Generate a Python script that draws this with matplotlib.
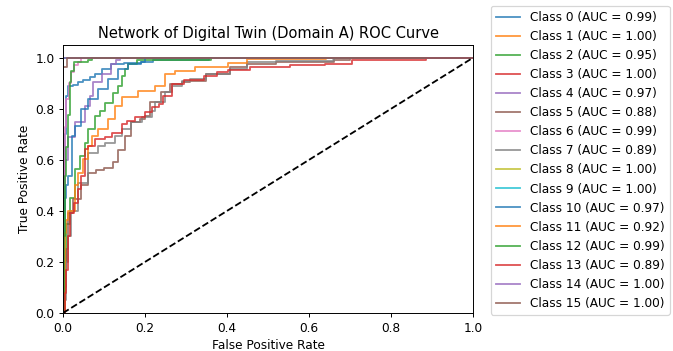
import numpy as np
import matplotlib.pyplot as plt

# ROC points per class
fpr0 = [0, 0, 0.004, 0.008, 0.012, 0.025, 0.037, 0.049, 0.065, 0.077, 0.094, 0.118, 0.15, 0.19, 0.22, 0.35, 0.355, 1]
tpr0 = [0, 0.45, 0.7, 0.85, 0.89, 0.895, 0.904, 0.911, 0.925, 0.937, 0.957, 0.976, 0.98, 0.983, 0.99, 0.99, 1, 1]
fpr1 = [0, 0, 1]
tpr1 = [0, 1, 1]
fpr2 = [0, 0.004, 0.008, 0.016, 0.029, 0.041, 0.053, 0.062, 0.078, 0.09, 0.102, 0.122, 0.135, 0.143, 0.151, 0.159, 0.18, 0.36, 0.362, 1]
tpr2 = [0, 0.2, 0.35, 0.45, 0.563, 0.614, 0.668, 0.72, 0.772, 0.79, 0.823, 0.862, 0.89, 0.93, 0.956, 0.976, 0.99, 0.99, 1, 1]
fpr3 = [0, 0, 1]
tpr3 = [0, 1, 1]
fpr4 = [0, 0, 0.005, 0.013, 0.029, 0.053, 0.065, 0.073, 0.094, 0.118, 0.13, 0.14, 1]
tpr4 = [0, 0.4, 0.6, 0.69, 0.747, 0.812, 0.852, 0.904, 0.937, 0.976, 0.99, 1, 1]
fpr5 = [0, 0.004, 0.008, 0.013, 0.025, 0.045, 0.062, 0.08, 0.10, 0.123, 0.135, 0.151, 0.167, 0.188, 0.2, 0.212,
        0.24, 0.261, 0.29, 0.31, 0.35, 0.407, 0.448, 0.52, 0.66, 0.7, 1]
tpr5 = [0, 0.1, 0.25, 0.39, 0.445, 0.50, 0.55, 0.56, 0.57, 0.59, 0.64, 0.694, 0.747, 0.76, 0.77, 0.826,
        0.864, 0.898, 0.905, 0.91, 0.937, 0.963, 0.976, 0.983, 0.99, 1, 1]
fpr6 = [0, 0, 0.004, 0.008, 0.014, 0.02, 0.028, 0.037, 0.045, 1]
tpr6 = [0, 0.5, 0.73, 0.838, 0.9, 0.944, 0.97, 0.985, 1, 1]
fpr7 = [0, 0.004, 0.008, 0.012, 0.02, 0.037, 0.062, 0.086, 0.102, 0.127, 0.143, 0.167, 0.192, 0.216, 0.224,
        0.249, 0.265, 0.29, 0.31, 0.35, 0.407, 0.448, 0.52, 0.658, 0.66, 1]
tpr7 = [0, 0.05, 0.2, 0.3, 0.4, 0.51, 0.628, 0.654, 0.668, 0.694, 0.72, 0.747, 0.766, 0.792, 0.825,
        0.864, 0.89, 0.91, 0.915, 0.937, 0.957, 0.983, 0.986, 0.99, 1, 1]
fpr8 = [0, 0, 1]
tpr8 = [0, 1, 1]
fpr9 = [0, 0, 1]
tpr9 = [0, 1, 1]
fpr10 = [0, 0, 0.004, 0.008, 0.012, 0.021, 0.029, 0.045, 0.062, 0.086, 0.11, 0.134, 0.159, 0.19, 0.2, 1]
tpr10 = [0, 0.3, 0.45, 0.5, 0.536, 0.694, 0.734, 0.8, 0.84, 0.878, 0.917, 0.955, 0.976, 0.983, 1, 1]
fpr11 = [0, 0.004, 0.008, 0.013, 0.029, 0.037, 0.049, 0.062, 0.07, 0.086, 0.11, 0.127, 0.143, 0.184, 0.224,
         0.249, 0.273, 0.322, 0.403, 0.448, 0.64, 0.642, 1]
tpr11 = [0, 0.314, 0.366, 0.4, 0.5, 0.55, 0.602, 0.654, 0.694, 0.72, 0.76, 0.812, 0.845, 0.87, 0.89,
         0.937, 0.95, 0.963, 0.98, 0.994, 0.994, 1, 1]
fpr12 = [0, 0.002, 0.004, 0.008, 0.012, 0.016, 0.02, 0.028, 0.061, 0.07, 1]
tpr12 = [0, 0.3, 0.538, 0.65, 0.774, 0.904, 0.95, 0.983, 0.99, 1, 1]
fpr13 = [0, 0.004, 0.008, 0.012, 0.016, 0.028, 0.037, 0.045, 0.054, 0.062, 0.078, 0.102, 0.119, 0.143, 0.155,
         0.176, 0.2, 0.216, 0.233, 0.245, 0.265, 0.294, 0.343, 0.375, 0.403, 0.456, 0.553, 0.64, 0.704, 0.785,
         0.883, 0.885, 1]
tpr13 = [0, 0.077, 0.169, 0.3, 0.392, 0.432, 0.484, 0.537, 0.641, 0.654, 0.681, 0.688, 0.707, 0.74, 0.753,
         0.766, 0.786, 0.806, 0.82, 0.852, 0.898, 0.911, 0.93, 0.944, 0.954, 0.963, 0.97, 0.976, 0.99, 0.99,
         0.993, 1, 1]
fpr14 = [0, 0, 1]
tpr14 = [0, 1, 1]
fpr15 = [0, 0, 0.01, 0.01, 1]
tpr15 = [0, 0.965, 0.965, 1, 1]

aucs = [0.99, 1.00, 0.95, 1.00, 0.97, 0.88, 0.99, 0.89, 1.00, 1.00, 0.97, 0.92, 0.99, 0.89, 1.00, 1.00]

fprs = [fpr0, fpr1, fpr2, fpr3, fpr4, fpr5, fpr6, fpr7, fpr8, fpr9, fpr10, fpr11, fpr12, fpr13, fpr14, fpr15]
tprs = [tpr0, tpr1, tpr2, tpr3, tpr4, tpr5, tpr6, tpr7, tpr8, tpr9, tpr10, tpr11, tpr12, tpr13, tpr14, tpr15]

# the reference looks like it was rendered at a lower dpi, so everything scales down a bit
dpi = 87.5
fig = plt.figure(figsize=(673 / dpi, 351 / dpi), dpi=dpi)
ax = fig.add_axes([63/673, 1 - 313/351, 410/673, 268/351])

for i in range(len(fprs)):
    ax.plot(fprs[i], tprs[i], drawstyle='steps-post', lw=1.5, alpha=0.8,
            label=f'Class {i} (AUC = {aucs[i]:.2f})')

ax.plot([0, 1], [0, 1], 'k--', lw=1.5)
ax.set_xlim(0, 1)
ax.set_ylim(0, 1.05)
ax.set_xlabel('False Positive Rate')
ax.set_ylabel('True Positive Rate')
ax.set_title('Network of Digital Twin (Domain A) ROC Curve')
ax.legend(loc='upper left', bbox_to_anchor=(491/673, 1 - 6/351), bbox_transform=fig.transFigure,
          borderaxespad=0)

plt.savefig('out.png', dpi=dpi)
